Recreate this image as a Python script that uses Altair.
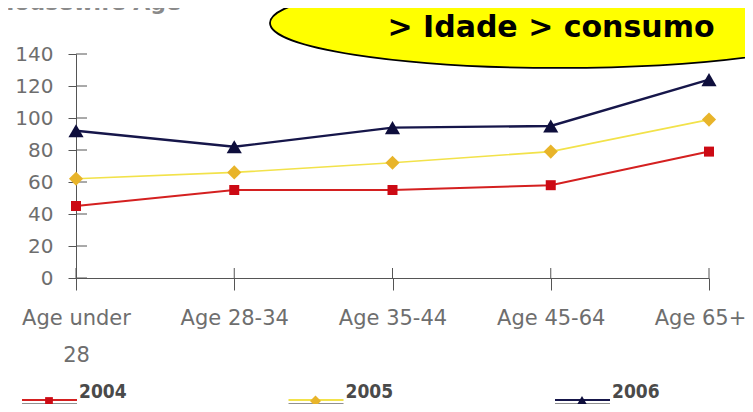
import altair as alt
import pandas as pd

categories = ["Age under 28", "Age 28-34", "Age 35-44", "Age 45-64", "Age 65+"]
series_names = ["2004", "2005", "2006"]
v2004 = [45, 55, 55, 58, 79]
v2005 = [62, 66, 72, 79, 99]
v2006 = [92, 82, 94, 95, 124]
y_ticks = [0, 20, 40, 60, 80, 100, 120, 140]
title_text = "Housewife Age"
callout_text = "> Idade > consumo"

values = {"2004": v2004, "2005": v2005, "2006": v2006}
rows = []
for s in series_names:
    for c, v in zip(categories, values[s]):
        rows.append({"cat": c, "series": s, "value": v})
df = pd.DataFrame(rows)

line_colors = {"2004": "#d42020", "2005": "#f2e24a", "2006": "#16164a"}
mark_colors = {"2004": "#cc0a14", "2005": "#e8b42a", "2006": "#0e0e3c"}
shapes = {"2004": "square", "2005": "diamond", "2006": "triangle-up"}
sizes = {"2004": 100, "2005": 200, "2006": 230}
widths = {"2004": 2, "2005": 1.6, "2006": 2.4}

W, H = 633, 224
axis_col = "#555555"
lab_col = "#6e6e6e"

x_axis = alt.Axis(
    title=None, labelAngle=0, labelFont="DejaVu Sans", labelFontSize=21,
    labelColor=lab_col, labelLineHeight=37, tickSize=12, tickColor=axis_col,
    domainColor=axis_col, labelPadding=17, grid=False, labelFlush=False,
    labelOverlap=False, labelAlign="center", labelBound=False,
    labelOffset={"condition": {"test": "datum.value == '" + categories[-1] + "'", "value": -9}, "value": 0},
    labelExpr="datum.label == 'Age under 28' ? ['Age under', '28'] : datum.label",
)
y_axis = alt.Axis(
    title=None, values=y_ticks, labelFont="DejaVu Sans", labelFontSize=20,
    labelColor=lab_col, tickSize=8, tickColor=axis_col, domainColor=axis_col,
    labelPadding=15, grid=False, labelOverlap=False, labelFlush=False,
    labelBound=False,
)
x_scale = alt.Scale(type="point", padding=0)
y_scale = alt.Scale(domain=[0, 140], nice=False)
x_enc = alt.X("cat:N", sort=categories, scale=x_scale, axis=x_axis)
y_enc = alt.Y("value:Q", scale=y_scale, axis=y_axis)

layers = []
base = alt.Chart(df)
for s in series_names:
    sub = base.transform_filter(alt.datum.series == s)
    layers.append(sub.mark_line(color=line_colors[s], strokeWidth=widths[s]).encode(x=x_enc, y=y_enc))
for s in series_names:
    sub = base.transform_filter(alt.datum.series == s)
    layers.append(
        sub.mark_point(shape=shapes[s], size=sizes[s], filled=True, opacity=1,
                       color=mark_colors[s]).encode(x=x_enc, y=y_enc)
    )

# inward tick parts
ytick_df = pd.DataFrame({"value": y_ticks})
layers.insert(0,
    alt.Chart(ytick_df).mark_rule(color=axis_col, strokeWidth=1).encode(
        y=alt.Y("value:Q", scale=y_scale, axis=y_axis),
        x=alt.value(0), x2=alt.value(11),
    )
)
xtick_df = pd.DataFrame({"cat": categories})
layers.insert(0,
    alt.Chart(xtick_df).mark_rule(color=axis_col, strokeWidth=1).encode(
        x=alt.X("cat:N", sort=categories, scale=x_scale, axis=x_axis),
        y=alt.value(H - 10), y2=alt.value(H),
    )
)

# manual legend
step = 266.5
for i, s in enumerate(series_names):
    x0 = -54 + step * i
    ly = 347
    leg = alt.Chart(pd.DataFrame({"series": [s]}))
    layers.append(leg.mark_rule(color="#222222", strokeWidth=1.2).encode(
        x=alt.value(x0), x2=alt.value(x0 + 55), y=alt.value(ly + 3)))
    layers.append(leg.mark_rule(color=line_colors[s], strokeWidth=2).encode(
        x=alt.value(x0), x2=alt.value(x0 + 55), y=alt.value(ly - 1)))
    layers.append(leg.mark_point(shape=shapes[s], size=sizes[s] * 0.6, filled=True, opacity=1,
                                 color=mark_colors[s]).encode(x=alt.value(x0 + 27), y=alt.value(ly)))
    layers.append(leg.mark_text(align="left", baseline="alphabetic",
                                font="DejaVu Sans Condensed, DejaVu Sans",
                                fontWeight="bold", fontSize=19, color="#4a4a4a").encode(
        x=alt.value(x0 + 57), y=alt.value(ly - 3), text="series:N"))

# partial title at top
layers.append(alt.Chart(pd.DataFrame({"t": [title_text]})).mark_text(
    align="left", baseline="alphabetic", font="DejaVu Sans", fontWeight="bold",
    fontSize=22, color="#8a8a8a").encode(x=alt.value(-80), y=alt.value(-44), text="t:N"))

# callout ellipse
ry = 0.155
k = 0.5523
ellipse = (
    f"M -1 0 C -1 {-k*ry} {-k} {-ry} 0 {-ry} C {k} {-ry} 1 {-k*ry} 1 0 "
    f"C 1 {k*ry} {k} {ry} 0 {ry} C {-k} {ry} -1 {k*ry} -1 0 Z"
)
layers.append(alt.Chart(pd.DataFrame({"t": [callout_text]})).mark_point(
    shape=ellipse, size=580 * 580, filled=True, fill="#ffff00", stroke="#000000",
    strokeWidth=1.8, opacity=1, fillOpacity=1, strokeOpacity=1).encode(
    x=alt.value(484), y=alt.value(-31)))
layers.append(alt.Chart(pd.DataFrame({"t": [callout_text]})).mark_text(
    align="center", baseline="alphabetic", font="DejaVu Sans", fontWeight="bold",
    fontSize=30, color="#000000").encode(x=alt.value(475), y=alt.value(-17), text="t:N"))

chart = alt.layer(*layers).properties(
    width=W, height=H,
    autosize=alt.AutoSizeParams(type="none"),
    padding={"left": 68, "top": 46, "right": 36, "bottom": 126},
).configure(background="white").configure_view(stroke=None)

chart.save("out.html", embed_options={"renderer": "svg", "actions": False})
